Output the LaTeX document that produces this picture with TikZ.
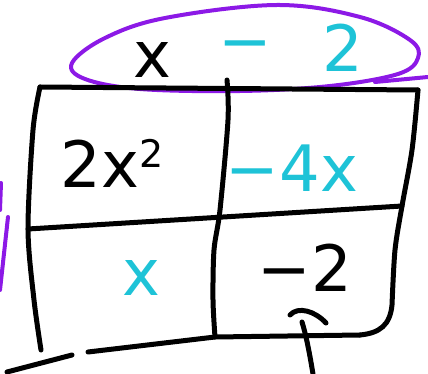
\documentclass[tikz,border=0pt]{standalone}
\usepackage{fontspec}
\setmainfont{DejaVu Sans}
\definecolor{handcyan}{RGB}{30,195,215}
\definecolor{handpurple}{RGB}{140,25,230}

\begin{document}
\begin{tikzpicture}[x=1pt, y=-1pt, line cap=round, line join=round,
    ink/.style={line width=5pt, black},
    loopline/.style={line width=4pt, handpurple},
    term/.style={font=\fontsize{64}{64}\selectfont, inner sep=0pt}]
    \useasboundingbox (0,0) rectangle (428,374);

    % Define the corners of the grid
    \coordinate (TL) at (40,87);
    \coordinate (TM) at (227,80);
    \coordinate (TR) at (418,90);
    \coordinate (ML) at (28,229);
    \coordinate (MR) at (402,206);
    \coordinate (BL) at (41,350);
    \coordinate (BM) at (215,337);
    \coordinate (BR) at (360,335);

    % Draw the loop round the factor on top
    \draw[loopline] plot[smooth cycle, tension=0.6] coordinates {(72,63) (105,38) (165,18) (277,5) (360,17) (410,40) (418,58) (398,74) (330,86) (240,91) (140,89) (85,79)};
    \draw[loopline] (375,82) -- (428,77);

    % Draw the loop line on the left edge
    \draw[loopline] (1,183) -- (0,210);
    \draw[loopline] (8,217) -- (0,290);

    % Draw the grid
    \draw[ink] (TL) -- (TR);
    \draw[ink] plot[smooth] coordinates {(TL) (33,130) (ML) (34,300) (BL)};
    \draw[ink] plot[smooth] coordinates {(TM) (228,120) (220,210) (214,250) (213,300) (BM)};
    \draw[ink] plot[smooth] coordinates {(TR) (412,150) (MR) (395,250) (392,305)}
        .. controls (390,325) and (380,333) .. (BR);
    \draw[ink] (ML) -- (MR);
    \draw[ink] (88,352) -- (BM) -- (BR);
    \draw[ink] (7,372) -- (72,355);

    % Draw the marks under the last term
    \draw[ink] (290,315) .. controls (298,306) and (315,311) .. (326,323);
    \draw[ink] (302,322) .. controls (306,335) and (309,350) .. (313,374);

    % Place the terms
    \node[term] (fx) at (152,60) {x};
    \node[term, handcyan] (fminus) at (245,52) {−};
    \node[term, handcyan] (ftwo) at (343,48) {2};
    \node[term] (sq) at (112,163) {2x\raisebox{20pt}{\fontsize{38}{38}\selectfont 2}};
    \node[term, handcyan] (lin) at (292,168) {−4x};
    \node[term, handcyan] (cx) at (141,278) {x};
    \node[term] (cst) at (305,268) {−2};
\end{tikzpicture}
\end{document}
